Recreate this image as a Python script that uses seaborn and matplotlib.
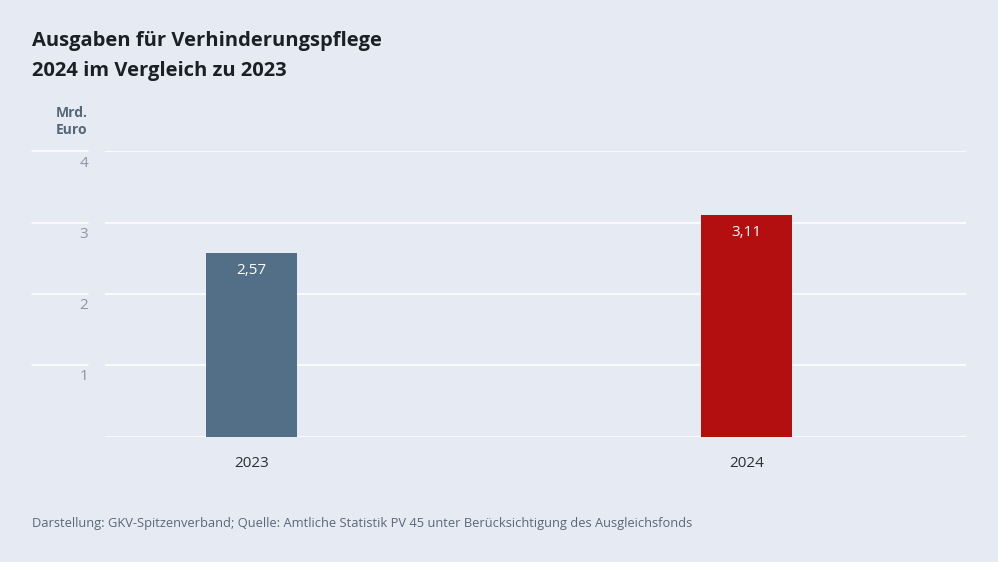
import matplotlib
matplotlib.use("Agg")
import matplotlib.pyplot as plt
import matplotlib.transforms as mtransforms
import seaborn as sns
import pandas as pd

# data
years = ["2023", "2024"]
ausgaben = [2.57, 3.11]
bar_colors = ["#526f87", "#b30f10"]
y_ticks = [1, 2, 3, 4]

bg = "#e6eaf3"

sns.set_theme(style="white")
plt.rcParams["font.family"] = ["Open Sans", "DejaVu Sans"]

df = pd.DataFrame({"Jahr": years, "Wert": ausgaben})

fig = plt.figure(figsize=(9.98, 5.62), dpi=100, facecolor=bg)
ax = fig.add_axes([0.1052, 0.2224, 0.8627, 0.5089])
ax.set_facecolor(bg)

sns.barplot(data=df, x="Jahr", y="Wert", hue="Jahr", palette=bar_colors,
            width=0.184, legend=False, ax=ax, saturation=1, linewidth=0)

ax.set_xlim(-0.296, 1.443)
ax.set_ylim(-0.005, 4.005)

# gridlines (white) incl. baseline
for v in [0] + y_ticks:
    ax.axhline(v, color="white", lw=1.1, zorder=0)
    if v > 0:
        ax.plot([-0.085, -0.02], [v, v], color="white", lw=1.1,
                transform=ax.get_yaxis_transform(), clip_on=False)

ax.set_yticks(y_ticks)
ax.set_yticklabels([str(t) for t in y_ticks])
ax.tick_params(axis="y", length=0, pad=12, labelsize=11, labelcolor="#8a96a6")
ax.tick_params(axis="x", length=0, pad=14, labelsize=11, labelcolor="#2a2f36")
# y tick labels sit just below their gridline
offset = mtransforms.ScaledTranslation(0, -3 / 72, fig.dpi_scale_trans)
for lbl in ax.get_yticklabels():
    lbl.set_verticalalignment("top")
    lbl.set_transform(lbl.get_transform() + offset)
ax.set_xlabel("")
ax.set_ylabel("")
for s in ax.spines.values():
    s.set_visible(False)

# value labels inside bars
for cont in ax.containers:
    ax.bar_label(cont, labels=[f"{b.get_height():.2f}".replace(".", ",") for b in cont],
                 padding=-18, color="white", fontsize=11)

# titles and notes
fig.text(0.032, 0.945, "Ausgaben für Verhinderungspflege\n2024 im Vergleich zu 2023",
         fontsize=14.5, fontweight="bold", color="#1c1f24", va="top", ha="left",
         linespacing=1.65)
fig.text(0.088, 0.812, "Mrd.\nEuro", fontsize=10, fontweight="bold", color="#556679",
         ha="right", va="top", linespacing=1.3)
fig.text(0.032, 0.069, "Darstellung: GKV-Spitzenverband; Quelle: Amtliche Statistik PV 45 "
         "unter Berücksichtigung des Ausgleichsfonds",
         fontsize=9.25, color="#5a6878", ha="left", va="center")

fig.savefig("out.png", dpi=100, facecolor=bg)
